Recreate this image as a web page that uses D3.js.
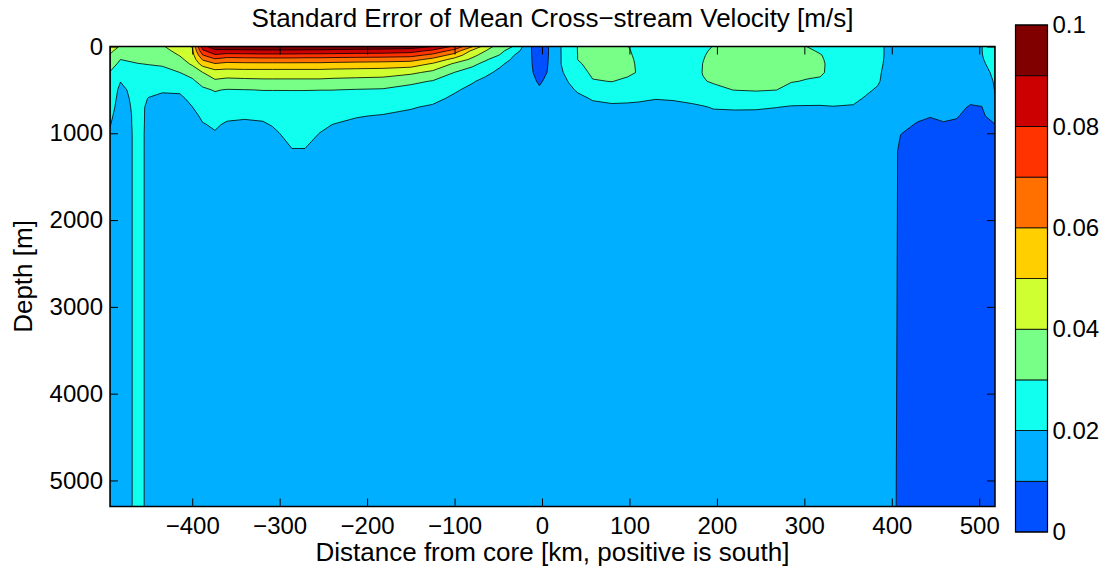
<!DOCTYPE html>
<html>
<head>
<meta charset="utf-8">
<script src="https://cdn.jsdelivr.net/npm/d3@7"></script>
<style>
  html, body { margin: 0; padding: 0; background: #fff; }
  svg { display: block; font-family: "Liberation Sans", Arial, Helvetica, sans-serif; }
</style>
</head>
<body>
<svg id="chart" width="1110" height="573"></svg>
<script>
// Station positions across the stream (km, positive is south)
const distanceKm = [-494, -482, -462, -450, -434, -414, -400, -388, -374, -360, -340, -319, -308, -286, -271,
  -254, -239, -212, -182, -150, -125, -100, -80, -65, -48, -33, -22, -13, -3, 8, 22, 30, 41, 58, 80, 98, 110,
  130, 150, 173, 184, 196, 220, 245, 268, 285, 303, 318, 333, 356, 370, 384, 392, 400, 410, 430, 444, 459,
  474, 490, 503, 518];

// Depth levels of each profile (m)
const depthM = [0, 50, 100, 150, 200, 300, 400, 500, 600, 700, 800, 900, 1000, 1200, 5300];

// Standard error of the mean cross-stream velocity (mm/s); one profile per station, top to bottom
const stdErrMmS = [
  [43, 41.5, 39.5, 37, 34, 29.5, 27, 25.5, 24.5, 23, 21.5, 20.3, 19, 17, 15],
  [39.5, 37, 33, 30, 28, 24, 20.2, 18, 17, 16.5, 16, 16, 16, 16, 16],
  [37, 35, 33, 31.5, 29.8, 27, 25, 23.5, 23, 22.5, 22.3, 22.2, 22, 22, 22],
  [38, 36, 34, 32, 30.3, 27, 24.5, 22, 19.7, 18.6, 18.6, 18.6, 18.6, 18.6, 18.6],
  [39, 37, 35, 33, 31, 27.5, 24, 21, 18, 16, 15.5, 15, 15, 15, 15],
  [46, 43, 40.5, 38, 35, 30, 26, 21.2, 18.5, 17, 16, 15.5, 15, 15, 15],
  [50.5, 48, 46, 44, 41.5, 33, 28.5, 25, 22, 19.8, 17.5, 16, 15.5, 15, 15],
  [86, 78, 69.5, 61, 54, 39.8, 33, 28.5, 26, 24, 21.5, 19.5, 17.5, 16, 15],
  [96, 87.4, 78.6, 68.4, 59.3, 45.5, 38.5, 30.6, 27.5, 25, 23, 21, 19.5, 17, 15],
  [97, 87, 76, 65, 57.5, 45, 37, 29.5, 26, 23.5, 21.5, 19, 17.5, 16, 15],
  [97.5, 87.5, 76.5, 65.5, 58, 45.5, 37.5, 29.8, 26.5, 23.5, 20.8, 18.8, 17.5, 16, 15],
  [98, 88, 77, 66, 58, 45.5, 38, 30.2, 27, 24, 20.8, 19.5, 18.5, 16.5, 15],
  [98, 88, 77, 66, 58, 45.5, 38, 30.2, 27, 24.5, 22, 20.3, 19, 17, 15],
  [98, 88, 77, 66, 58, 45.5, 38, 30.2, 27.5, 25.5, 24, 23, 21.75, 19.75, 15],
  [97.5, 87.5, 76.5, 65.5, 58, 45.5, 38, 30.2, 27.5, 25.5, 24, 23, 21.75, 19.75, 15],
  [97.5, 87.5, 76.5, 65.5, 58, 45.5, 38, 30.1, 27, 25, 23, 21.2, 19.9, 17.5, 15],
  [97, 87, 76, 65, 57.5, 45, 37.5, 30.1, 26.5, 24, 22, 19.9, 18.5, 16.5, 15],
  [96.5, 86.5, 75.5, 64.5, 57, 44.5, 37, 29.5, 26, 23.5, 20.4, 18.5, 17.5, 16, 15],
  [96, 86, 75, 64, 56.5, 44, 36.5, 29, 25.5, 22.5, 19.5, 18, 17, 16, 15],
  [95, 84.5, 73.5, 63.5, 55, 42, 32, 27, 24, 20.5, 18.5, 17.5, 17, 16, 15],
  [89.8, 77.5, 67, 57, 49, 37.5, 29.5, 25, 22, 19, 17.5, 16.5, 16, 15.5, 15],
  [78, 66, 56, 46.5, 38.5, 29.8, 25.5, 21, 18.5, 17, 16, 15.5, 15.5, 15, 15],
  [61, 48, 43, 38, 32, 26.5, 20.8, 18, 17, 16, 15.5, 15.5, 15.5, 15, 15],
  [45, 40.3, 36, 31, 28, 22, 18, 16.5, 16, 15.5, 15.5, 15, 15, 15, 15],
  [35.5, 32.5, 29.5, 26, 21.5, 18, 16.5, 16, 15.5, 15.5, 15, 15, 15, 15, 15],
  [29.8, 25, 20.5, 18.5, 17, 16, 15.5, 15.5, 15, 15, 15, 15, 15, 15, 15],
  [19.8, 18, 16.5, 15.5, 15, 15, 15, 15, 15, 15, 15, 15, 15, 15, 15],
  [10.5, 10.5, 10.5, 10.5, 10.5, 10.6, 11, 12, 12.5, 13, 13.5, 14, 14, 14.5, 15],
  [5.5, 6, 6.5, 7, 7.5, 8.5, 9.5, 10.5, 11.5, 12.5, 13, 13.5, 14, 14.5, 15],
  [10.2, 10.2, 10.2, 10.3, 10.3, 10.4, 11, 12, 12.5, 13, 13.5, 14, 14, 14.5, 15],
  [20.2, 20.2, 20.1, 20.1, 20.1, 19, 17.5, 16.5, 16, 15.5, 15, 15, 15, 15, 15],
  [26, 26, 25.5, 25, 24.5, 22.5, 20.2, 18.5, 17, 16, 15.5, 15, 15, 15, 15],
  [30.2, 30.2, 30.1, 30.1, 29, 26.5, 23.5, 20.8, 18.5, 17, 16, 15.5, 15, 15, 15],
  [34, 34, 33.5, 33, 32.5, 31.5, 29.5, 26, 20.5, 18.5, 17, 16, 15.5, 15, 15],
  [35, 35, 34.5, 34, 33.5, 32, 30.2, 27, 22, 18.5, 17, 16, 15.5, 15, 15],
  [30.2, 31, 31.5, 32, 32, 31.5, 28.5, 25, 21.5, 18.5, 17, 16, 15.5, 15, 15],
  [27, 27.5, 28, 28.5, 29, 29.5, 27, 24, 21, 18.5, 17, 16, 15.5, 15, 15],
  [24, 24.5, 25, 25.5, 26, 26.5, 25, 23, 20.2, 18, 17, 16, 15.5, 15, 15],
  [24, 24.5, 25, 25.5, 26, 26.5, 25.5, 23.5, 20.6, 18, 17, 16, 15.5, 15, 15],
  [25, 25.5, 26, 26.5, 27, 27, 26, 24, 21.5, 19, 17, 16, 15.5, 15, 15],
  [28.5, 29, 29.5, 29.8, 30.1, 30.3, 29.5, 27, 22.5, 19.5, 18, 16.5, 15.5, 15, 15],
  [30.2, 31, 31.5, 32, 32, 32, 30.8, 28, 23.5, 20.4, 18.5, 17, 16, 15, 15],
  [34, 34, 34, 34, 34, 33.5, 32.5, 30.2, 24.5, 20.7, 18.5, 17, 16, 15, 15],
  [35, 35, 35, 35, 34.5, 34, 33, 30.8, 25, 20.6, 18.5, 17, 16, 15, 15],
  [34, 34, 34, 34, 33.5, 33, 32, 30.1, 24.5, 20.1, 18, 17, 16, 15, 15],
  [32, 33, 33.5, 33.5, 33, 32, 30.5, 27, 22.5, 19.5, 17.5, 16.5, 16, 15, 15],
  [29.9, 31.5, 32, 32.5, 32.5, 31.5, 29.5, 26, 22, 19.5, 17.5, 16.5, 16, 15, 15],
  [27, 29, 30.5, 31, 31.2, 31, 29, 25.5, 21.8, 19.5, 17.5, 16.5, 16, 15, 15],
  [25, 26, 27, 27.5, 28, 28, 27, 24.5, 21.5, 19.8, 17.5, 16.5, 16, 15, 15],
  [23, 23.5, 24, 24.5, 25, 25, 24, 23, 21.2, 19.5, 17.5, 16.5, 16, 15, 15],
  [22, 22.5, 23, 23, 23, 22.5, 21.5, 21, 19.5, 18, 17, 16.5, 16, 15, 15],
  [21.5, 21.5, 21.5, 21.5, 21.5, 21, 20.7, 19.3, 18, 17, 16.5, 16, 15.5, 15, 15],
  [19.8, 19.8, 19.8, 19.7, 19.5, 19, 18.5, 18, 17.5, 17, 16.5, 16, 15.5, 15, 15],
  [18, 18, 17.5, 17, 16.5, 16, 15.5, 15, 14.5, 14, 13.5, 13, 12.5, 12, 12],
  [17, 17, 16.5, 16, 15.5, 15, 14, 13, 12, 11.5, 11, 10.6, 10.1, 9, 8],
  [16.5, 16.5, 16, 15.5, 15, 14.5, 13.5, 12.5, 11.5, 11, 10.4, 9.8, 9, 8.5, 8],
  [16.5, 16.5, 16, 15.5, 15, 14.5, 13.5, 12.5, 11.5, 10.8, 10.1, 9.5, 9, 8.5, 8],
  [16.5, 16.5, 16, 15.5, 15, 14.5, 13.5, 12.5, 11.5, 11, 10.4, 9.8, 9, 8.5, 8],
  [17, 17, 16.5, 16, 15.5, 15, 14, 12.5, 11.5, 10.8, 10.2, 9.6, 9, 8.5, 8],
  [17.5, 17.5, 17, 16.5, 16, 15, 13.5, 12, 10.7, 9.7, 9.2, 9, 8.8, 8.5, 8],
  [19.9, 19.9, 19.8, 19.5, 19, 17.5, 15.5, 13, 11, 9.9, 9.3, 9, 8.8, 8.5, 8],
  [24, 24, 23.5, 23, 22.5, 21.5, 20.8, 20.3, 19.5, 15, 12, 9.9, 9.3, 8.5, 8]
];

// Contour levels (mm/s) and the fill of each band [level, level + 10)
const levelsMmS = [0, 10, 20, 30, 40, 50, 60, 70, 80, 90];
const bandColors = ["#0050ff", "#00afff", "#10ffef", "#78ff88", "#cfff30",
                    "#ffcf00", "#ff7000", "#ff3300", "#cc0000", "#800000"];

const xTicks = [-400, -300, -200, -100, 0, 100, 200, 300, 400, 500];
const yTicks = [0, 1000, 2000, 3000, 4000, 5000];
const colorbarTicks = [0, 0.02, 0.04, 0.06, 0.08, 0.1];

const titleText = "Standard Error of Mean Cross\u2212stream Velocity [m/s]";
const xLabelText = "Distance from core [km, positive is south]";
const yLabelText = "Depth [m]";

// ---- layout ----
const plot = { left: 110, right: 995, top: 46.5, bottom: 506.5 };
const cbar = { left: 1015.5, right: 1047.5, top: 25, bottom: 532 };
const tickFont = 24;
const labelFont = 26;
const tickLen = 8;

const svg = d3.select("#chart");

const x = d3.scaleLinear()
  .domain([distanceKm[0], distanceKm[distanceKm.length - 1]])
  .range([plot.left, plot.right]);
const y = d3.scaleLinear().domain([0, 5300]).range([plot.top, plot.bottom]);

// ---- gridded field -> filled contours ----
const nx = distanceKm.length, ny = depthM.length;
const grid = new Array(nx * ny);
for (let j = 0; j < ny; j++) {
  for (let i = 0; i < nx; i++) grid[j * nx + i] = stdErrMmS[i][j];
}
// grid index -> physical coordinate (irregular spacing)
const colToKm = d3.scaleLinear().domain(d3.range(nx)).range(distanceKm);
const rowToM = d3.scaleLinear().domain(d3.range(ny)).range(depthM);

const toScreen = d3.geoTransform({
  point(gx, gy) {
    const sx = Math.max(0, Math.min(nx - 1, gx - 0.5));
    const sy = Math.max(0, Math.min(ny - 1, gy - 0.5));
    this.stream.point(x(colToKm(sx)), y(rowToM(sy)));
  }
});
const path = d3.geoPath(toScreen);

const bands = d3.contours().size([nx, ny]).thresholds(levelsMmS)(grid);

svg.append("defs").append("clipPath").attr("id", "plot-clip")
  .append("rect")
  .attr("x", plot.left).attr("y", plot.top)
  .attr("width", plot.right - plot.left).attr("height", plot.bottom - plot.top);

const field = svg.append("g").attr("clip-path", "url(#plot-clip)");
field.selectAll("path.band")
  .data(bands)
  .join("path")
  .attr("class", "band")
  .attr("d", path)
  .attr("fill", (d, i) => bandColors[i])
  .attr("stroke", "none");
field.selectAll("path.line")
  .data(bands.slice(1))
  .join("path")
  .attr("class", "line")
  .attr("d", path)
  .attr("fill", "none")
  .attr("stroke", "#000")
  .attr("stroke-width", 0.8)
  .attr("stroke-linejoin", "round");

// ---- axes ----
const fmtInt = d3.format("d");
function styleAxis(g) {
  g.select(".domain").remove();
  g.selectAll(".tick line").attr("stroke", "#000").attr("stroke-width", 1);
  g.selectAll(".tick text").attr("fill", "#000").attr("font-size", tickFont)
    .attr("font-family", "Liberation Sans, Arial, sans-serif");
}

svg.append("g")
  .attr("transform", `translate(0,${plot.bottom})`)
  .call(d3.axisBottom(x).tickValues(xTicks).tickFormat(d3.format("")).tickSizeInner(-tickLen).tickSizeOuter(0).tickPadding(10))
  .call(styleAxis);
svg.append("g")
  .attr("transform", `translate(0,${plot.top})`)
  .call(d3.axisTop(x).tickValues(xTicks).tickFormat("").tickSizeInner(-tickLen).tickSizeOuter(0))
  .call(styleAxis);
svg.append("g")
  .attr("transform", `translate(${plot.left},0)`)
  .call(d3.axisLeft(y).tickValues(yTicks).tickFormat(fmtInt).tickSizeInner(-tickLen).tickSizeOuter(0).tickPadding(7))
  .call(styleAxis);
svg.append("g")
  .attr("transform", `translate(${plot.right},0)`)
  .call(d3.axisRight(y).tickValues(yTicks).tickFormat("").tickSizeInner(-tickLen).tickSizeOuter(0))
  .call(styleAxis);

svg.append("rect")
  .attr("x", plot.left).attr("y", plot.top)
  .attr("width", plot.right - plot.left).attr("height", plot.bottom - plot.top)
  .attr("fill", "none").attr("stroke", "#000").attr("stroke-width", 1.5);

// ---- colorbar ----
const cy = d3.scaleLinear().domain([0, 0.1]).range([cbar.bottom, cbar.top]);
const cbarG = svg.append("g");
cbarG.selectAll("rect.cb")
  .data(levelsMmS)
  .join("rect")
  .attr("class", "cb")
  .attr("x", cbar.left)
  .attr("width", cbar.right - cbar.left)
  .attr("y", d => cy((d + 10) / 1000))
  .attr("height", d => cy(d / 1000) - cy((d + 10) / 1000))
  .attr("fill", (d, i) => bandColors[i])
  .attr("stroke", "#000")
  .attr("stroke-width", 0.8);
cbarG.append("rect")
  .attr("x", cbar.left).attr("y", cbar.top)
  .attr("width", cbar.right - cbar.left).attr("height", cbar.bottom - cbar.top)
  .attr("fill", "none").attr("stroke", "#000").attr("stroke-width", 1.2);

const cbAxis = svg.append("g")
  .attr("transform", `translate(${cbar.right},0)`)
  .call(d3.axisRight(cy).tickValues(colorbarTicks).tickFormat(d3.format("~g")).tickSize(0).tickPadding(5));
cbAxis.select(".domain").remove();
cbAxis.selectAll(".tick text").attr("fill", "#000").attr("font-size", tickFont)
  .attr("font-family", "Liberation Sans, Arial, sans-serif");

// ---- titles ----
const midX = (plot.left + plot.right) / 2;
svg.append("text")
  .attr("x", midX).attr("y", 27)
  .attr("text-anchor", "middle").attr("font-size", labelFont).attr("fill", "#000")
  .text(titleText);
svg.append("text")
  .attr("x", midX).attr("y", 561)
  .attr("text-anchor", "middle").attr("font-size", labelFont).attr("fill", "#000")
  .text(xLabelText);
svg.append("text")
  .attr("transform", `translate(32,${(plot.top + plot.bottom) / 2}) rotate(-90)`)
  .attr("text-anchor", "middle").attr("font-size", labelFont).attr("fill", "#000")
  .text(yLabelText);
</script>
</body>
</html>
